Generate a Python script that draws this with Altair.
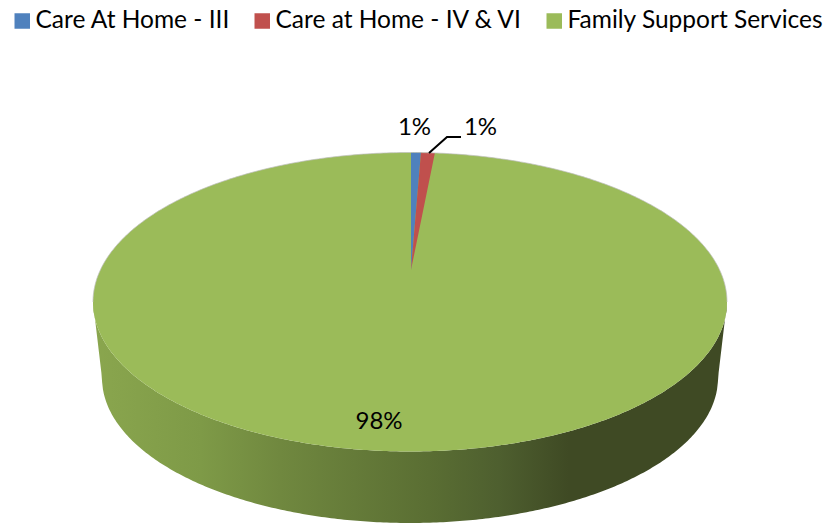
import math
import altair as alt
import pandas as pd

names = ["Care At Home - III", "Care at Home - IV & VI", "Family Support Services"]
shares = [0.5, 0.7, 98.8]
colors = ["#4f81bd", "#c0504d", "#9bbb59"]
pct_labels = ["1%", "1%", "98%"]

W, H = 816, 517
CX, CY, RX, RY = 410, 302, 317, 149.5
AX, AY = 411, 270
BX, BY, BRX, BRY = 410, 378, 308, 145

def top_y(x, sign):
    t = max(0.0, 1 - ((x - CX) / RX) ** 2)
    return CY + sign * RY * math.sqrt(t)

def bottom_y(x):
    d = (x - BX) / BRX
    if abs(d) >= 1:
        f = (abs(x - CX) - BRX) / (RX - BRX)
        return BY + (CY - BY) * f
    return BY + BRY * math.sqrt(1 - d * d)

def steps(a, b, n=160):
    return [(a + b) / 2 + (b - a) / 2 * math.sin(math.pi * (i / n - 0.5)) for i in range(n + 1)]

xs = steps(CX - RX, CX + RX, 300)

X = alt.X("x:Q", scale=alt.Scale(domain=[8, 8 + W], nice=False, zero=False), axis=None)
Y = alt.Y("y:Q", scale=alt.Scale(domain=[8 + H, 8], nice=False, zero=False), axis=None, stack=None)
Y2 = alt.Y2("y2:Q")

color_scale = alt.Scale(domain=names, range=colors)
legend = alt.Legend(
    title=None, orient="none", legendX=2, legendY=0, direction="horizontal", columns=3,
    symbolType="square", symbolSize=240, symbolStrokeWidth=0, symbolOpacity=1,
    labelFont="Lato", labelFontSize=24.5, labelColor="#000000", labelOffset=1,
    columnPadding=19, labelLimit=400, padding=0, clipHeight=26,
)

wall = pd.DataFrame({"x": xs, "y": [top_y(x, 1) for x in xs], "y2": [bottom_y(x) for x in xs]})
wall_layer = alt.Chart(wall).mark_area(
    color=alt.Gradient(
        gradient="linear", x1=0, x2=1, y1=0, y2=0,
        stops=[
            alt.GradientStop(color="#8aa64e", offset=0.0),
            alt.GradientStop(color="#7e9a47", offset=0.17),
            alt.GradientStop(color="#70883f", offset=0.295),
            alt.GradientStop(color="#5a6e33", offset=0.53),
            alt.GradientStop(color="#4e5f2f", offset=0.64),
            alt.GradientStop(color="#3f4a24", offset=0.75),
            alt.GradientStop(color="#3f4a24", offset=1.0),
        ],
    )
).encode(x=X, y=Y, y2=Y2)

angle = 0.0
edges = []
for s in shares[:2]:
    angle += s / 100 * 2 * math.pi
    edges.append(CX + 1 + RX * math.sin(angle))

def line_y(x, ex):
    ey = top_y(ex, -1)
    return AY + (ey - AY) * (x - AX) / (ex - AX)

green = pd.DataFrame([
    {"x": x, "y": top_y(x, -1), "y2": top_y(x, 1), "name": names[2]} for x in xs
])
blue = pd.DataFrame([
    {"x": x, "y": top_y(x, -1), "y2": line_y(x, edges[0]), "name": names[0]}
    for x in [AX + i * (edges[0] - AX) / 6 for i in range(7)]
])
red_x = sorted([AX + i * (edges[1] - AX) / 12 for i in range(13)] + [edges[0]])
red = pd.DataFrame([
    {"x": x, "y": line_y(x, edges[0]) if x < edges[0] else top_y(x, -1),
     "y2": line_y(x, edges[1]), "name": names[1]}
    for x in red_x
])

def slice_layer(df):
    return alt.Chart(df).mark_area(interpolate="linear").encode(
        x=X, y=Y, y2=Y2,
        color=alt.Color("name:N", scale=color_scale, legend=legend),
    )

rim = pd.DataFrame({"x": xs, "y": [top_y(x, -1) for x in xs]})
rim_layer = alt.Chart(rim).mark_line(color="#bfbfbf", strokeWidth=1, opacity=0.7).encode(x=X, y=Y)

leader = pd.DataFrame({"x": [461, 447, 429], "y": [137, 137, 153], "o": [0, 1, 2]})
leader_layer = alt.Chart(leader).mark_line(color="#000000", strokeWidth=2).encode(x=X, y=Y, order="o:Q")

text_df = pd.DataFrame({"x": [414.5, 480.5, 379], "y": [128, 128, 422], "t": pct_labels})
text_layer = alt.Chart(text_df).mark_text(
    font="Lato", fontSize=24, color="#000000", align="center", baseline="middle"
).encode(x=X, y=Y, text="t:N")

chart = alt.layer(
    wall_layer, slice_layer(green), slice_layer(blue), slice_layer(red),
    rim_layer, leader_layer, text_layer,
).properties(
    width=W, height=H, padding=0, autosize=alt.AutoSizeParams(type="none"), background="#ffffff"
).configure_view(strokeWidth=0)

chart.save("out.html", embed_options={"renderer": "svg", "actions": False})
